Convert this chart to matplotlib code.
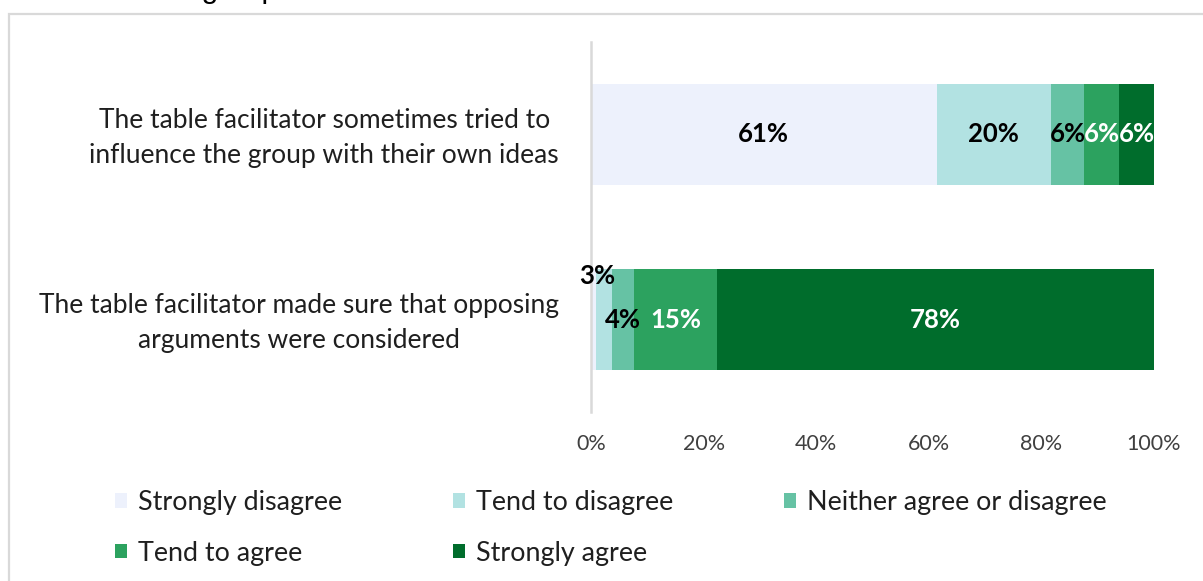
import matplotlib
matplotlib.use("Agg")
import matplotlib.pyplot as plt
import matplotlib.transforms as mtransforms
from matplotlib.patches import Rectangle, Patch

# Survey statements (bottom to top on the chart)
statements = [
    "The table facilitator made sure that opposing\narguments were considered",
    "The table facilitator sometimes tried to\ninfluence the group with their own ideas",
]
responses = [
    "Strongly disagree",
    "Tend to disagree",
    "Neither agree or disagree",
    "Tend to agree",
    "Strongly agree",
]
# Share of respondents (%) per response, one list per response, ordered as statements
strongly_disagree = [0.8, 61.4]
tend_to_disagree = [3.0, 20.3]
neither = [3.9, 5.9]
tend_to_agree = [14.7, 6.2]
strongly_agree = [77.6, 6.2]
series = [strongly_disagree, tend_to_disagree, neither, tend_to_agree, strongly_agree]

colors = ["#EDF1FC", "#B2E2E2", "#66C2A4", "#2CA25F", "#006D2C"]
label_colors = ["black", "black", "black", "white", "white"]
xticks = [0, 20, 40, 60, 80, 100]

W, H = 1203, 581
fig = plt.figure(figsize=(W / 100, H / 100), dpi=100)
plt.rcParams["font.family"] = ["Lato", "DejaVu Sans"]

ax = fig.add_axes([591 / W, 1 - 412 / H, 563 / W, 370 / H])

y = list(range(len(statements)))
left = [0.0] * len(statements)
containers = []
for name, vals, col in zip(responses, series, colors):
    bars = ax.barh(y, vals, left=left, height=0.55, color=col, label=name,
                   edgecolor="none")
    containers.append(bars)
    left = [l + v for l, v in zip(left, vals)]

# Value labels centred in each segment
for bars, vals, tc in zip(containers, series, label_colors):
    for rect, v in zip(bars, vals):
        if v < 2:
            continue
        cx = rect.get_x() + rect.get_width() / 2
        cy = rect.get_y() + rect.get_height() / 2
        offset = (0, 0)
        if v < 3.5 and rect.get_y() < 0.5:
            offset = (-5, 31)  # too narrow: lift the label above the bar
        ax.annotate(f"{v:.0f}%", (cx, cy), xytext=offset, textcoords="offset points",
                    ha="center", va="center", fontsize=18.5, fontweight="bold",
                    color=tc)

ax.set_xlim(0, 100)
ax.set_ylim(-0.5, 1.5)
ax.set_xticks(xticks)
ax.set_xticklabels([f"{t}%" for t in xticks])
ax.set_yticks(y)
ax.set_yticklabels(statements, multialignment="center", linespacing=1.52)
ax.tick_params(axis="x", length=0, pad=16, labelsize=15.5, labelcolor="#404040")
ax.tick_params(axis="y", length=0, pad=23, labelsize=19, labelcolor="#1F1F1F")
lift = mtransforms.ScaledTranslation(0, 4 / 100, fig.dpi_scale_trans)
for lbl in ax.get_yticklabels():
    lbl.set_transform(lbl.get_transform() + lift)
for s in ["top", "right", "bottom"]:
    ax.spines[s].set_visible(False)
ax.spines["left"].set_color("#D9D9D9")
ax.spines["left"].set_linewidth(1.8)

# Legend, laid out row by row across three columns
handles = [Patch(facecolor=c, edgecolor="none") for c in colors]
order = [0, 3, 1, 4, 2]
fig.legend([handles[i] for i in order], [responses[i] for i in order],
           ncol=3, loc="upper left", bbox_to_anchor=(115 / W, 1 - 490 / H),
           frameon=False, fontsize=19.4, handlelength=0.45, handleheight=0.45,
           handletextpad=0.41, columnspacing=4.1, labelspacing=0.95,
           labelcolor="#1F1F1F", borderaxespad=0, borderpad=0)

# Chart frame
fig.add_artist(Rectangle((8.5 / W, -0.1), 1.2, 1 - 13.5 / H + 0.1,
                         transform=fig.transFigure, fill=False,
                         edgecolor="#D9D9D9", linewidth=1.6, clip_on=False))

# Title line running in from above the frame
fig.text(23 / W, 1 + 2.2 / H, "influence the group with their own ideas",
         family=["Liberation Sans", "DejaVu Sans"], fontsize=21.6,
         ha="left", va="baseline", color="black")

fig.savefig("out.png", dpi=100)
